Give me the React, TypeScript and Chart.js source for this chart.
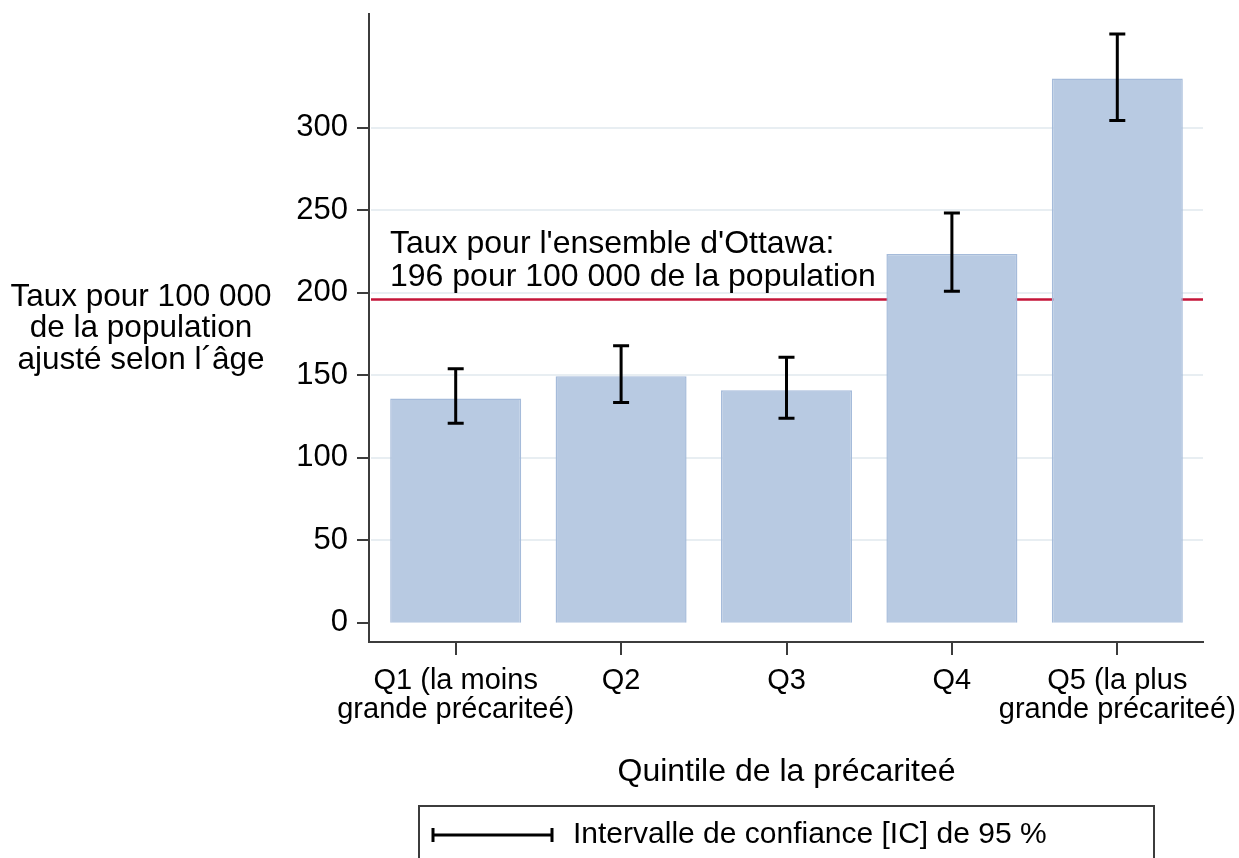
import React, { useEffect, useRef } from 'react';
import { Chart, registerables } from 'chart.js';

Chart.register(...registerables);

const categories: (string | string[])[] = [
  ['Q1 (la moins', 'grande précariteé)'],
  'Q2',
  'Q3',
  'Q4',
  ['Q5 (la plus', 'grande précariteé)'],
];
const rates = [136, 149.5, 141, 223.5, 330];
const ciLower = [121, 133.5, 124, 201, 304.5];
const ciUpper = [154, 168, 161, 248.5, 357];
const ottawaRate = 196;
const yTicks = [0, 50, 100, 150, 200, 250, 300];
const yTitleLines = ['Taux pour 100 000', 'de la population', 'ajusté selon l´âge'];
const refLabelLines = ["Taux pour l'ensemble d'Ottawa:", '196 pour 100 000 de la population'];
const xTitle = 'Quintile de la précariteé';
const legendLabel = 'Intervalle de confiance [IC] de 95 %';

const FONT = '"Liberation Sans", Arial, Helvetica, sans-serif';

const zeroPad = (s: any) => {
  s.paddingTop = 0;
  s.paddingBottom = 0;
  s.paddingLeft = 0;
  s.paddingRight = 0;
};

const extras = {
  id: 'extras',
  beforeDatasetsDraw(chart: any) {
    const { ctx, chartArea, scales } = chart;
    const x = scales.x;
    const y = scales.y;
    const axisX = chartArea.left - 4;
    const axisRight = chartArea.right + 4;
    const axisY = chartArea.bottom;
    ctx.save();
    // grid lines
    ctx.strokeStyle = '#e8eef2';
    ctx.lineWidth = 2;
    yTicks.forEach((v) => {
      if (v === 0) return;
      const py = Math.round(y.getPixelForValue(v));
      ctx.beginPath();
      ctx.moveTo(axisX + 2, py);
      ctx.lineTo(axisRight - 1, py);
      ctx.stroke();
    });
    // reference line
    ctx.strokeStyle = '#c41539';
    ctx.lineWidth = 2.5;
    const ry = y.getPixelForValue(ottawaRate);
    ctx.beginPath();
    ctx.moveTo(axisX + 2, ry);
    ctx.lineTo(axisRight - 1, ry);
    ctx.stroke();
    // axes
    ctx.strokeStyle = '#3c3c3c';
    ctx.lineWidth = 2;
    ctx.beginPath();
    ctx.moveTo(axisX, chartArea.top);
    ctx.lineTo(axisX, axisY + 1);
    ctx.moveTo(axisX - 1, axisY);
    ctx.lineTo(axisRight, axisY);
    ctx.stroke();
    // y tick marks
    ctx.beginPath();
    yTicks.forEach((v) => {
      const py = Math.round(y.getPixelForValue(v));
      ctx.moveTo(axisX - 12, py);
      ctx.lineTo(axisX, py);
    });
    // x tick marks
    categories.forEach((_, i) => {
      const px = Math.round(x.getPixelForValue(i));
      ctx.moveTo(px, axisY);
      ctx.lineTo(px, axisY + 13);
    });
    ctx.stroke();
    ctx.restore();
  },
  afterDatasetsDraw(chart: any) {
    const { ctx, scales } = chart;
    const x = scales.x;
    const y = scales.y;
    ctx.save();
    ctx.strokeStyle = '#000';
    ctx.lineWidth = 3;
    ctx.lineCap = 'butt';
    rates.forEach((_, i) => {
      const px = x.getPixelForValue(i);
      const yl = y.getPixelForValue(ciLower[i]);
      const yu = y.getPixelForValue(ciUpper[i]);
      ctx.beginPath();
      ctx.moveTo(px, yl);
      ctx.lineTo(px, yu);
      ctx.moveTo(px - 8, yl);
      ctx.lineTo(px + 8, yl);
      ctx.moveTo(px - 8, yu);
      ctx.lineTo(px + 8, yu);
      ctx.stroke();
    });
    ctx.restore();
  },
  afterDraw(chart: any) {
    const { ctx, chartArea } = chart;
    ctx.save();
    ctx.fillStyle = '#000';
    ctx.textBaseline = 'middle';
    // y title
    ctx.font = `31.5px ${FONT}`;
    ctx.textAlign = 'center';
    yTitleLines.forEach((t, i) => ctx.fillText(t, 141, 297 + i * 31.5));
    // reference label
    ctx.font = `32px ${FONT}`;
    ctx.textAlign = 'left';
    refLabelLines.forEach((t, i) => ctx.fillText(t, 390, 244 + i * 33));
    // x title
    ctx.textAlign = 'center';
    ctx.fillText(xTitle, (chartArea.left + chartArea.right) / 2, 772);
    // legend box
    ctx.strokeStyle = '#3c3c3c';
    ctx.lineWidth = 2;
    ctx.strokeRect(419, 806, 735, 100);
    ctx.strokeStyle = '#000';
    ctx.lineWidth = 3;
    ctx.beginPath();
    ctx.moveTo(433, 835);
    ctx.lineTo(552, 835);
    ctx.moveTo(433, 828);
    ctx.lineTo(433, 842);
    ctx.moveTo(552, 828);
    ctx.lineTo(552, 842);
    ctx.stroke();
    ctx.font = `30px ${FONT}`;
    ctx.textAlign = 'left';
    ctx.fillText(legendLabel, 573, 835);
    ctx.restore();
  },
};

export default function App() {
  const canvasRef = useRef<HTMLCanvasElement | null>(null);

  useEffect(() => {
    document.body.style.margin = '0';
    const canvas = canvasRef.current;
    if (!canvas) return;
    Chart.defaults.font.family = FONT;
    const chart = new Chart(canvas, {
      type: 'bar',
      data: {
        labels: categories,
        datasets: [
          {
            data: rates,
            backgroundColor: '#b8cae2',
            borderColor: '#a5bbda',
            borderWidth: 1.5,
            barPercentage: 0.792,
            categoryPercentage: 1,
          },
        ],
      },
      options: {
        responsive: false,
        animation: false,
        layout: { padding: { left: 0, right: 39, top: 13, bottom: 0 } },
        plugins: { legend: { display: false }, tooltip: { enabled: false } },
        scales: {
          x: {
            grid: { display: false, drawTicks: false },
            border: { display: false },
            ticks: {
              color: '#000',
              font: { size: 29, lineHeight: 1.0 },
              padding: 24,
              maxRotation: 0,
              minRotation: 0,
              autoSkip: false,
            },
            afterFit: (s: any) => {
              s.height = 216;
              zeroPad(s);
            },
          },
          y: {
            min: -11.7,
            max: 369.7,
            grid: { display: false, drawTicks: false },
            border: { display: false },
            ticks: { color: '#000', font: { size: 31 }, padding: 25 },
            afterBuildTicks: (s: any) => {
              s.ticks = yTicks.map((v) => ({ value: v }));
            },
            afterFit: (s: any) => {
              s.width = 373;
              zeroPad(s);
            },
          },
        },
      },
      plugins: [extras],
    });
    return () => chart.destroy();
  }, []);

  return (
    <div style={{ position: 'fixed', left: 0, top: 0, width: 1239, height: 858, background: '#fff' }}>
      <canvas ref={canvasRef} width={1239} height={858} style={{ display: 'block' }} />
    </div>
  );
}
